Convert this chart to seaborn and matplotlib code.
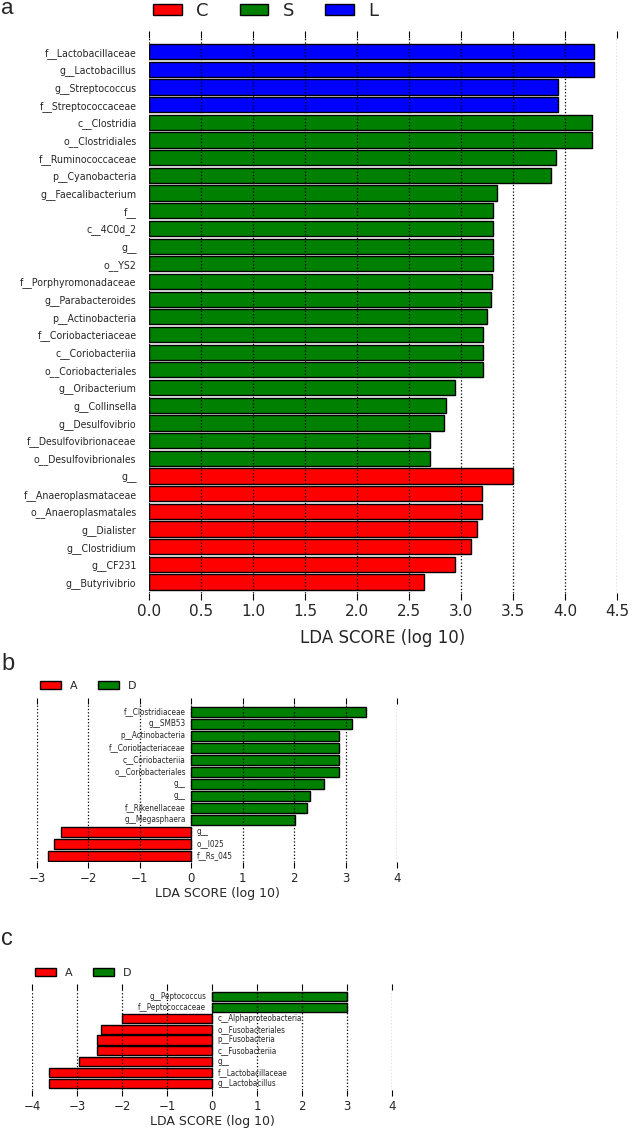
import numpy as np
import pandas as pd
import matplotlib
matplotlib.use("Agg")
import matplotlib.pyplot as plt
from matplotlib.patches import Patch
from matplotlib import font_manager
import seaborn as sns

# ---------------------------------------------------------
# data
# ---------------------------------------------------------

# panel a
a_names = ["f__Lactobacillaceae", "g__Lactobacillus", "g__Streptococcus", "f__Streptococcaceae",
           "c__Clostridia", "o__Clostridiales", "f__Ruminococcaceae", "p__Cyanobacteria",
           "g__Faecalibacterium", "f__", "c__4C0d_2", "g__", "o__YS2", "f__Porphyromonadaceae",
           "g__Parabacteroides", "p__Actinobacteria", "f__Coriobacteriaceae", "c__Coriobacteriia",
           "o__Coriobacteriales", "g__Oribacterium", "g__Collinsella", "g__Desulfovibrio",
           "f__Desulfovibrionaceae", "o__Desulfovibrionales",
           "g__", "f__Anaeroplasmataceae", "o__Anaeroplasmatales", "g__Dialister",
           "g__Clostridium", "g__CF231", "g__Butyrivibrio"]
a_scores = [4.28, 4.28, 3.93, 3.93,
            4.26, 4.26, 3.91, 3.87, 3.35, 3.31, 3.31, 3.31, 3.31, 3.30, 3.29, 3.25,
            3.21, 3.21, 3.21, 2.94, 2.86, 2.84, 2.70, 2.70,
            3.50, 3.20, 3.20, 3.15, 3.10, 2.94, 2.64]
a_groups = ["L"] * 4 + ["S"] * 20 + ["C"] * 7
a_legend = ["C", "S", "L"]

# panel b
b_names = ["f__Clostridiaceae", "g__SMB53", "p__Actinobacteria", "f__Coriobacteriaceae",
           "c__Coriobacteriia", "o__Coriobacteriales", "g__", "g__", "f__Rikenellaceae",
           "g__Megasphaera", "g__", "o__I025", "f__Rs_045"]
b_scores = [3.39, 3.12, 2.88, 2.87, 2.87, 2.87, 2.59, 2.31, 2.25, 2.02, -2.53, -2.67, -2.78]
b_groups = ["D"] * 10 + ["A"] * 3

# panel c
c_names = ["g__Peptococcus", "f__Peptococcaceae", "c__Alphaproteobacteria", "o__Fusobacteriales",
           "p__Fusobacteria", "c__Fusobacteriia", "g__", "f__Lactobacillaceae", "g__Lactobacillus"]
c_scores = [3.0, 3.0, -2.0, -2.47, -2.55, -2.55, -2.96, -3.63, -3.63]
c_groups = ["D"] * 2 + ["A"] * 7
bc_legend = ["A", "D"]

colors = {"C": "#ff0000", "S": "#008000", "L": "#0000ff", "A": "#ff0000", "D": "#008000"}

# ---------------------------------------------------------
# style
# ---------------------------------------------------------
sns.set_style("white")
plt.rcParams["font.family"] = ["DejaVu Sans"]

W, H = 632, 1129
fig = plt.figure(figsize=(W / 100, H / 100), dpi=100)
renderer = fig.canvas.get_renderer()

# narrow face for the taxon names if one is installed, else Liberation Sans
fonts = font_manager.fontManager.ttflist
def regular(f):
    return f.style == "normal" and f.weight in (400, "normal", "regular")
pick = [f for f in fonts if f.name == "Liberation Sans Narrow" and regular(f)]
if not pick:
    pick = [f for f in fonts if f.name == "DejaVu Sans" and f.stretch == "condensed" and regular(f)]
narrow_file = pick[0].fname if pick else None


def base_font(size):
    if narrow_file:
        return font_manager.FontProperties(fname=narrow_file, size=size)
    return font_manager.FontProperties(family="Liberation Sans", size=size)


def fitted_font(sample, width_px):
    # size the label font so a sample name is as wide as in the original
    t = fig.text(0, 0, sample, fontproperties=base_font(10))
    w = t.get_window_extent(renderer).width
    t.remove()
    return base_font(10 * width_px / w)


def frame(left, right, top, bottom):
    # pixel box -> figure fraction
    return [left / W, 1 - bottom / H, (right - left) / W, (bottom - top) / H]


def lda_bars(ax, names, scores, groups, hue_order, width):
    df = pd.DataFrame({"key": [str(i) for i in range(len(names))],
                       "score": scores, "group": groups})
    sns.barplot(data=df, x="score", y="key", hue="group", hue_order=hue_order,
                palette=colors, saturation=1, dodge=False, width=width,
                edgecolor="black", linewidth=1.0, legend=False, ax=ax)
    for s in ax.spines.values():
        s.set_visible(False)
    ax.set_axisbelow(False)
    ax.grid(axis="x", linestyle=":", color="black", linewidth=0.9)
    ax.grid(axis="y", visible=False)
    ax.set_ylabel("")
    return df


def legend(ax, labels, x, y, fs, hl, hh, tp, cs):
    handles = [Patch(facecolor=colors[k], edgecolor="black", linewidth=1) for k in labels]
    ax.legend(handles, labels, ncol=len(labels), loc="center left", frameon=False,
              bbox_to_anchor=(x / W, 1 - y / H), bbox_transform=fig.transFigure,
              fontsize=fs, handlelength=hl, handleheight=hh, handletextpad=tp,
              columnspacing=cs, borderpad=0, borderaxespad=0)


# ---------------------------------------------------------
# panel a
# ---------------------------------------------------------
ax_a = fig.add_axes(frame(149, 617, 38, 593))
lda_bars(ax_a, a_names, a_scores, a_groups, a_legend, 0.86)
ax_a.set_xlim(0, 4.5)
ax_a.set_ylim(30.62, -0.77)
ax_a.set_xticks(np.arange(0, 4.51, 0.5))
ax_a.set_xticklabels([f"{v:.1f}" for v in np.arange(0, 4.51, 0.5)])
ax_a.set_yticks(range(len(a_names)))
ax_a.set_yticklabels(a_names, fontproperties=fitted_font("f__Lactobacillaceae", 92))
ax_a.tick_params(axis="y", length=0, pad=9)
ax_a.tick_params(axis="x", direction="out", length=5, width=0.8, color="black",
                 top=True, bottom=True, labeltop=False, labelsize=11, pad=3)
ax_a.set_xlabel("LDA SCORE (log 10)", fontsize=12, labelpad=7)
legend(ax_a, a_legend, 153, 11, 13, 1.6, 0.55, 0.8, 1.7)
fig.text(1 / W, 1 - 14 / H, "a", fontsize=16, family="Liberation Sans", ha="left", va="baseline")

# ---------------------------------------------------------
# panels b and c
# ---------------------------------------------------------
def side_panel(box, names, scores, groups, xlim, ylim, leg_y, leg_x, tag, tag_y, fp):
    ax = fig.add_axes(frame(*box))
    lda_bars(ax, names, scores, groups, bc_legend, 0.84)
    ax.set_xlim(*xlim)
    ax.set_ylim(*ylim)
    ax.set_xticks(range(xlim[0], xlim[1] + 1))
    ax.set_yticks([])
    for i, (nm, sc) in enumerate(zip(names, scores)):
        off = -4 if sc > 0 else 4
        ax.annotate(nm, xy=(0, i), xytext=(off, 0), textcoords="offset points",
                    ha="right" if sc > 0 else "left", va="center", fontproperties=fp)
    ax.tick_params(axis="x", direction="out", length=4, width=0.8, color="black",
                   top=True, bottom=True, labeltop=False, labelsize=8.5, pad=3)
    ax.set_xlabel("LDA SCORE (log 10)", fontsize=9, labelpad=2)
    legend(ax, bc_legend, leg_x, leg_y, 8, 1.9, 0.65, 0.75, 1.9)
    fig.text(1 / W, 1 - tag_y / H, tag, fontsize=17, family="Liberation Sans",
             ha="left", va="baseline")
    return ax


side_panel((37, 397, 704, 862), b_names, b_scores, b_groups, (-3, 4), (12.54, -0.67),
           686, 40, "b", 670, fitted_font("f__Clostridiaceae", 62))
side_panel((32, 392, 990, 1090), c_names, c_scores, c_groups, (-4, 4), (8.6, -0.6),
           973, 35, "c", 945, fitted_font("c__Alphaproteobacteria", 85))

fig.savefig("out.png", dpi=100)
